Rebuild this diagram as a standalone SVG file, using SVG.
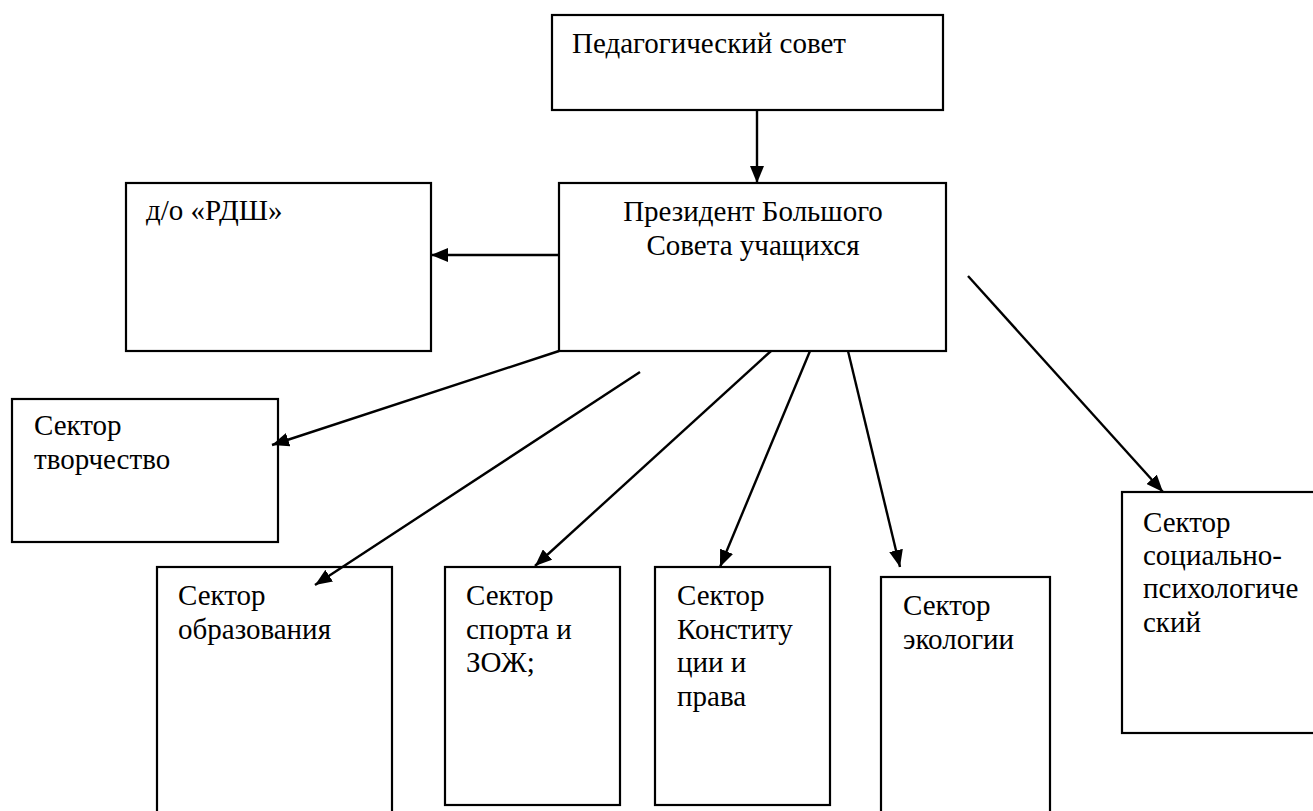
<svg xmlns="http://www.w3.org/2000/svg" width="1313" height="811" viewBox="0 0 1313 811">
<style>
rect.box{fill:#fff;stroke:#000;stroke-width:2.2}
text{font-family:"Liberation Serif","Times New Roman",serif;font-size:29px;fill:#000}
.c line{stroke:#000;stroke-width:2.4}
</style>
<defs>
<marker id="ah" markerUnits="userSpaceOnUse" markerWidth="18" markerHeight="14" refX="17" refY="7" orient="auto">
<path d="M0,0 L17,7 L0,14 z" fill="#000"/>
</marker>
</defs>
<rect width="1313" height="811" fill="#fff"/>
<g id="ped">
<rect class="box" x="552" y="15" width="391" height="95"/>
<text x="572" y="53">Педагогический совет</text>
</g>
<g id="president">
<rect class="box" x="559" y="183" width="387" height="168"/>
<text x="753" y="221" text-anchor="middle">Президент Большого</text>
<text x="753" y="255" text-anchor="middle">Совета учащихся</text>
</g>
<g id="rdsh">
<rect class="box" x="126" y="183" width="305" height="168"/>
<text x="146" y="220">д/о «РДШ»</text>
</g>
<g id="tvorch">
<rect class="box" x="12" y="399" width="266" height="143"/>
<text x="34" y="435">Сектор</text>
<text x="34" y="469">творчество</text>
</g>
<g id="obraz">
<rect class="box" x="157" y="567" width="235" height="250"/>
<text x="178" y="605">Сектор</text>
<text x="178" y="639">образования</text>
</g>
<g id="sport">
<rect class="box" x="445" y="567" width="175" height="238"/>
<text x="466" y="605">Сектор</text>
<text x="466" y="639">спорта и</text>
<text x="466" y="672">ЗОЖ;</text>
</g>
<g id="konst">
<rect class="box" x="655" y="567" width="175" height="238"/>
<text x="677" y="605">Сектор</text>
<text x="677" y="639">Конститу</text>
<text x="677" y="672">ции и</text>
<text x="677" y="706">права</text>
</g>
<g id="ekol">
<rect class="box" x="881" y="577" width="169" height="250"/>
<text x="903" y="615">Сектор</text>
<text x="903" y="649">экологии</text>
</g>
<g id="social">
<rect class="box" x="1122" y="492" width="220" height="241"/>
<text x="1143" y="532">Сектор</text>
<text x="1143" y="565">социально-</text>
<text x="1143" y="598">психологиче</text>
<text x="1143" y="632">ский</text>
</g>
<g id="connectors" class="c">
<line x1="757" y1="110" x2="757" y2="183" marker-end="url(#ah)"/>
<line x1="559" y1="255" x2="431" y2="255" marker-end="url(#ah)"/>
<line x1="559" y1="351" x2="272" y2="445" marker-end="url(#ah)"/>
<line x1="640" y1="372" x2="315" y2="585" marker-end="url(#ah)"/>
<line x1="771" y1="351" x2="535" y2="566" marker-end="url(#ah)"/>
<line x1="810" y1="351" x2="720" y2="567" marker-end="url(#ah)"/>
<line x1="848" y1="351" x2="900" y2="567" marker-end="url(#ah)"/>
<line x1="968" y1="276" x2="1163" y2="492" marker-end="url(#ah)"/>
</g>
</svg>
